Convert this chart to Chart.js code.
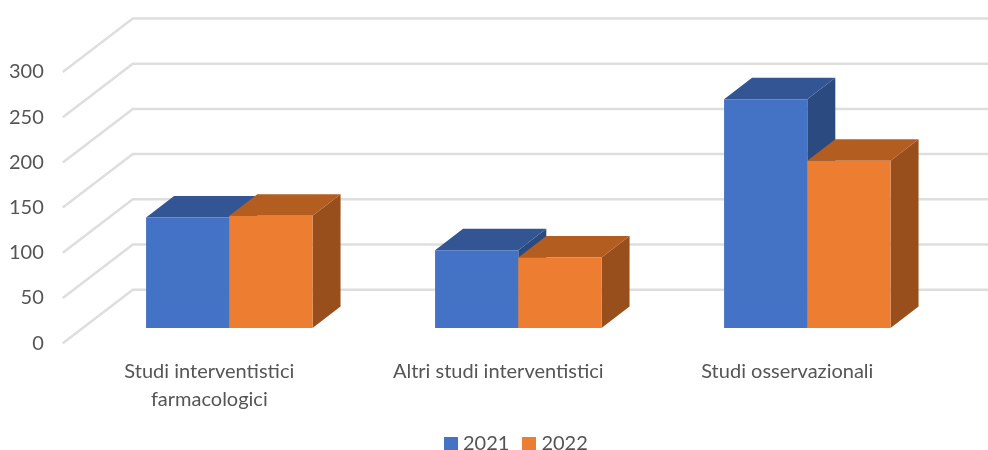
<!DOCTYPE html>
<html>
<head>
<meta charset="utf-8">
<title>Studi 2021-2022</title>
<script src="https://cdn.jsdelivr.net/npm/chart.js@4/dist/chart.umd.min.js"></script>
<style>
    html, body { margin: 0; padding: 0; background: #fff; }
    canvas { display: block; filter: blur(0.35px); }
</style>
</head>
<body>
<canvas id="chart" width="988" height="450"></canvas>
<script>
// Data
const categories = [['Studi interventistici', 'farmacologici'], 'Altri studi interventistici', 'Studi osservazionali'];
const years = ['2021', '2022'];
const values2021 = [122, 86, 253];
const values2022 = [124, 78, 185];
const axisMax = 300;
const axisStep = 50;

// Colours per year: front, top, side
const frontColors = ['#4472C4', '#ED7D31'];
const topColors = ['#335593', '#B35E20'];
const sideColors = ['#2A4A80', '#984F1C'];
const gridColor = '#DEDEDE';
const textColor = '#555555';

// Fake 3D settings
const wallDepth = { x: 70, y: 53.5 };
const barShift = { x: 20, y: 15.3 };
const barDepth = { x: 28, y: 21.5 };

function face(ctx, color, points) {
    ctx.fillStyle = color;
    ctx.beginPath();
    points.forEach((p, i) => i ? ctx.lineTo(p[0], p[1]) : ctx.moveTo(p[0], p[1]));
    ctx.closePath();
    ctx.fill();
}

// legend square as an image, so the text can sit closer to it than Chart.js allows
function swatch(color) {
    const c = document.createElement('canvas');
    c.width = 14;
    c.height = 14;
    const ctx = c.getContext('2d');
    ctx.fillStyle = color;
    ctx.fillRect(0, 0, 14, 14);
    return c;
}

const fake3d = {
    id: 'fake3d',
    afterLayout(chart) {
        // legend sits right of centre in the original
        const legend = chart.legend;
        legend.left += 52.5;
        legend.right += 52.5;
        legend.top = 416;
    },
    beforeDatasetsDraw(chart) {
        const ctx = chart.ctx;
        const y = chart.scales.y;
        const left = chart.scales.x.left - 2;
        ctx.save();
        ctx.strokeStyle = gridColor;
        ctx.lineWidth = 2.5;
        y.ticks.forEach(t => {
            const py = y.getPixelForValue(t.value);
            ctx.beginPath();
            ctx.moveTo(left, py);
            ctx.lineTo(left + wallDepth.x, py - wallDepth.y);
            ctx.lineTo(chart.width, py - wallDepth.y);
            ctx.stroke();
        });
        ctx.restore();
    },
    beforeDatasetDraw() {
        return false; // bars are painted below, in year order
    },
    afterDatasetsDraw(chart) {
        const ctx = chart.ctx;
        for (let c = 0; c < categories.length; c++) {
            years.forEach((year, d) => {
                const bar = chart.getDatasetMeta(d).data[c];
                const { x, y, base, width } = bar.getProps(['x', 'y', 'base', 'width'], true);
                const l = x - width / 2 + barShift.x;
                const r = x + width / 2 + barShift.x;
                const t = y - barShift.y;
                const b = base - barShift.y;
                face(ctx, sideColors[d], [[r, t], [r + barDepth.x, t - barDepth.y], [r + barDepth.x, b - barDepth.y], [r, b]]);
                face(ctx, topColors[d], [[l, t], [l + barDepth.x, t - barDepth.y], [r + barDepth.x, t - barDepth.y], [r, t]]);
                ctx.save();
                ctx.translate(barShift.x, -barShift.y);
                bar.draw(ctx);
                ctx.restore();
            });
        }
    }
};

new Chart(document.getElementById('chart').getContext('2d'), {
    type: 'bar',
    data: {
        labels: categories,
        datasets: [
            { label: years[0], data: values2021, backgroundColor: frontColors[0] },
            { label: years[1], data: values2022, backgroundColor: frontColors[1] }
        ]
    },
    options: {
        responsive: false,
        animation: false,
        layout: { padding: { left: 0, right: 56.2, top: 72, bottom: -48.2 } },
        datasets: { bar: { categoryPercentage: 0.576, barPercentage: 1 } },
        plugins: {
            tooltip: { enabled: false },
            legend: {
                position: 'bottom',
                labels: {
                    usePointStyle: true,
                    pointStyleWidth: 4,
                    padding: 18,
                    color: textColor,
                    font: { family: 'Lato', size: 20 },
                    generateLabels: chart => chart.data.datasets.map((ds, i) => ({
                        text: ds.label,
                        datasetIndex: i,
                        fontColor: textColor,
                        lineWidth: 0,
                        pointStyle: swatch(frontColors[i])
                    }))
                }
            }
        },
        scales: {
            x: {
                grid: { display: false },
                border: { display: false },
                afterFit: s => { s.height = 107; },
                ticks: {
                    autoSkip: false,
                    maxRotation: 0,
                    padding: 6,
                    color: textColor,
                    font: { family: 'Lato', size: 20, lineHeight: 1.4 }
                }
            },
            y: {
                min: 0,
                max: axisMax,
                grid: { display: false, drawTicks: false },
                border: { display: false },
                afterFit: s => { s.width = 64.8; },
                ticks: {
                    stepSize: axisStep,
                    padding: 21,
                    color: textColor,
                    font: { family: 'Lato', size: 20 }
                }
            }
        }
    },
    plugins: [fake3d]
});
</script>
</body>
</html>
